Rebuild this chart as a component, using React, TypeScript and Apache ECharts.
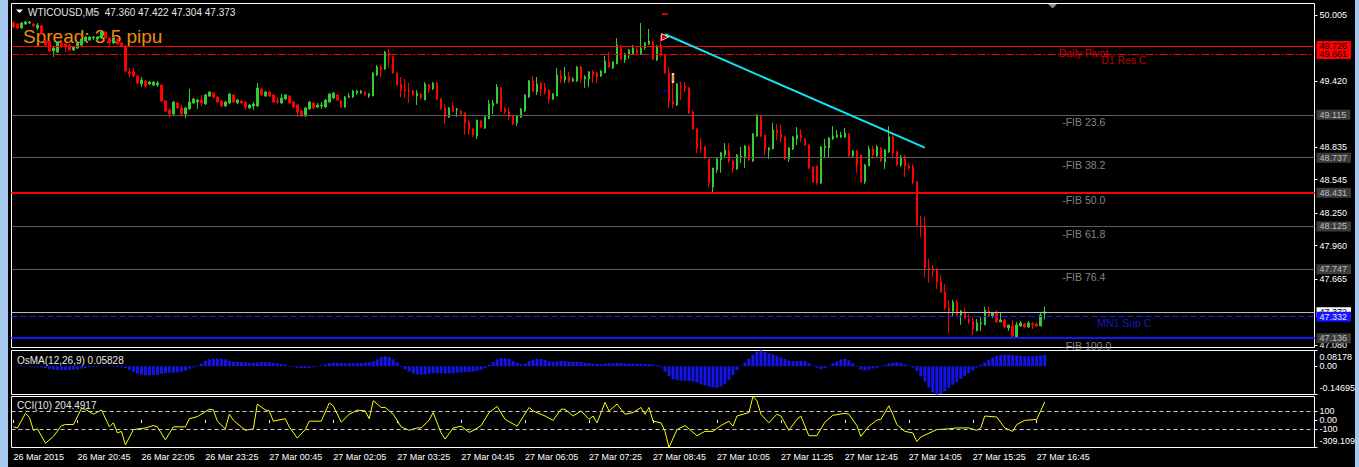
import React, { useEffect, useRef } from "react";
import * as echarts from "echarts";

const FONT = '"Liberation Sans", Arial, sans-serif';

// ---- time axis (M5 bars) ----
const startDay = 26;
const startMinute = 19 * 60 + 25;
const slotCount = 326;
const lastBar = 258;
const firstLabel = "26 Mar 2015";

// ---- candles: [open, close, low, high] ----
const candles: number[][] = [
  [49.934,49.899,49.890,49.952],[49.925,49.890,49.881,49.934],[49.890,49.934,49.881,49.943],[49.925,49.943,49.916,49.952],
  [49.934,49.943,49.925,49.952],[49.925,49.908,49.899,49.934],[49.890,49.916,49.872,49.934],[49.908,49.845,49.837,49.916],
  [49.783,49.739,49.730,49.828],[49.775,49.686,49.677,49.783],[49.686,49.712,49.633,49.721],[49.677,49.766,49.668,49.775],
  [49.757,49.730,49.712,49.775],[49.748,49.721,49.677,49.766],[49.739,49.695,49.686,49.748],[49.695,49.721,49.686,49.730],
  [49.712,49.757,49.704,49.766],[49.739,49.792,49.730,49.801],[49.775,49.810,49.766,49.819],[49.783,49.810,49.775,49.819],
  [49.801,49.810,49.783,49.819],[49.792,49.810,49.783,49.819],[49.801,49.854,49.792,49.863],[49.854,49.801,49.792,49.863],
  [49.801,49.757,49.721,49.810],[49.757,49.801,49.748,49.810],[49.792,49.748,49.739,49.801],[49.757,49.730,49.721,49.766],
  [49.721,49.509,49.500,49.739],[49.500,49.482,49.455,49.535],[49.500,49.464,49.455,49.535],[49.464,49.402,49.393,49.473],
  [49.393,49.429,49.367,49.455],[49.420,49.376,49.358,49.429],[49.393,49.411,49.384,49.420],[49.384,49.411,49.376,49.420],
  [49.384,49.402,49.367,49.420],[49.384,49.243,49.234,49.393],[49.243,49.154,49.145,49.251],[49.163,49.127,49.092,49.181],
  [49.127,49.234,49.118,49.243],[49.225,49.181,49.172,49.234],[49.181,49.127,49.118,49.207],[49.127,49.181,49.092,49.190],
  [49.172,49.234,49.163,49.349],[49.225,49.260,49.216,49.269],[49.234,49.251,49.172,49.260],[49.251,49.225,49.198,49.296],
  [49.216,49.296,49.207,49.305],[49.287,49.322,49.278,49.331],[49.314,49.278,49.269,49.322],[49.278,49.234,49.225,49.287],
  [49.243,49.198,49.189,49.251],[49.198,49.234,49.189,49.243],[49.225,49.305,49.216,49.314],[49.296,49.234,49.225,49.305],
  [49.225,49.251,49.216,49.260],[49.243,49.225,49.216,49.251],[49.234,49.189,49.163,49.234],[49.181,49.207,49.172,49.216],
  [49.198,49.216,49.163,49.234],[49.198,49.358,49.189,49.402],[49.349,49.296,49.287,49.358],[49.287,49.322,49.278,49.331],
  [49.322,49.287,49.278,49.331],[49.296,49.234,49.225,49.305],[49.243,49.234,49.216,49.278],[49.225,49.269,49.216,49.305],
  [49.260,49.296,49.251,49.305],[49.287,49.225,49.216,49.296],[49.234,49.189,49.181,49.243],[49.207,49.145,49.101,49.216],
  [49.154,49.110,49.101,49.163],[49.110,49.181,49.101,49.190],[49.172,49.234,49.163,49.243],[49.225,49.181,49.172,49.234],
  [49.189,49.207,49.181,49.225],[49.198,49.207,49.172,49.234],[49.189,49.251,49.181,49.260],[49.234,49.305,49.225,49.314],
  [49.269,49.314,49.260,49.322],[49.296,49.251,49.243,49.305],[49.243,49.189,49.181,49.251],[49.189,49.278,49.181,49.287],
  [49.278,49.287,49.269,49.314],[49.278,49.331,49.269,49.340],[49.314,49.331,49.296,49.340],[49.314,49.331,49.305,49.340],
  [49.322,49.296,49.287,49.331],[49.287,49.305,49.269,49.314],[49.287,49.491,49.287,49.500],[49.473,49.544,49.464,49.562],
  [49.544,49.517,49.455,49.562],[49.526,49.677,49.517,49.686],[49.668,49.650,49.535,49.704],[49.633,49.491,49.482,49.642],
  [49.491,49.384,49.376,49.500],[49.393,49.340,49.278,49.455],[49.349,49.331,49.269,49.438],[49.340,49.331,49.225,49.402],
  [49.331,49.296,49.287,49.340],[49.287,49.314,49.207,49.340],[49.305,49.269,49.260,49.314],[49.251,49.393,49.251,49.411],
  [49.384,49.349,49.314,49.393],[49.349,49.402,49.340,49.411],[49.402,49.260,49.251,49.411],[49.260,49.172,49.163,49.269],
  [49.181,49.101,49.039,49.216],[49.101,49.181,49.092,49.190],[49.198,49.154,49.145,49.234],[49.163,49.172,49.101,49.181],
  [49.154,49.127,49.118,49.163],[49.136,49.048,48.941,49.145],[49.057,48.985,48.941,49.074],[48.994,48.941,48.923,49.003],
  [48.932,49.074,48.906,49.074],[49.065,49.012,49.003,49.074],[49.003,49.101,48.994,49.110],[49.083,49.216,49.083,49.251],
  [49.198,49.225,49.127,49.251],[49.225,49.367,49.216,49.393],[49.358,49.154,49.145,49.367],[49.172,49.145,49.127,49.190],
  [49.145,49.101,49.074,49.181],[49.110,49.039,49.030,49.118],[49.048,49.110,49.021,49.118],[49.101,49.172,49.092,49.181],
  [49.154,49.296,49.145,49.305],[49.278,49.420,49.269,49.429],[49.420,49.331,49.322,49.464],[49.322,49.393,49.296,49.455],
  [49.402,49.349,49.287,49.411],[49.358,49.322,49.296,49.402],[49.340,49.260,49.225,49.349],[49.260,49.305,49.251,49.314],
  [49.287,49.473,49.287,49.535],[49.464,49.438,49.402,49.517],[49.429,49.464,49.402,49.544],[49.464,49.420,49.402,49.500],
  [49.420,49.438,49.411,49.455],[49.420,49.544,49.411,49.553],[49.544,49.438,49.402,49.553],[49.438,49.455,49.358,49.473],
  [49.438,49.500,49.367,49.509],[49.500,49.473,49.402,49.517],[49.491,49.455,49.402,49.500],[49.464,49.509,49.455,49.517],
  [49.491,49.597,49.491,49.642],[49.588,49.544,49.535,49.677],[49.535,49.588,49.526,49.597],[49.571,49.739,49.571,49.801],
  [49.730,49.615,49.606,49.739],[49.606,49.659,49.580,49.668],[49.650,49.695,49.615,49.704],[49.659,49.712,49.650,49.739],
  [49.695,49.668,49.650,49.721],[49.659,49.712,49.650,49.934],[49.712,49.757,49.695,49.766],[49.748,49.775,49.739,49.881],
  [49.766,49.615,49.606,49.775],[49.606,49.730,49.597,49.739],[49.739,49.650,49.633,49.828],[49.650,49.491,49.482,49.659],
  [49.491,49.243,49.181,49.544],[49.243,49.216,49.181,49.473],[49.207,49.393,49.198,49.402],[49.376,49.367,49.251,49.411],
  [49.376,49.358,49.322,49.411],[49.358,49.136,49.127,49.367],[49.145,48.994,48.985,49.163],[48.994,48.826,48.782,49.003],
  [48.826,48.817,48.782,48.915],[48.835,48.737,48.729,48.844],[48.729,48.516,48.480,48.729],[48.480,48.649,48.427,48.649],
  [48.631,48.729,48.605,48.746],[48.720,48.782,48.605,48.791],[48.764,48.808,48.747,48.870],[48.799,48.711,48.693,48.870],
  [48.711,48.649,48.605,48.729],[48.640,48.764,48.631,48.773],[48.746,48.755,48.693,48.835],[48.737,48.844,48.649,48.853],
  [48.835,48.720,48.711,48.853],[48.711,48.950,48.702,48.959],[48.932,49.118,48.923,49.127],[49.110,48.932,48.923,49.118],
  [48.941,48.817,48.764,48.941],[48.808,48.826,48.729,48.835],[48.817,48.985,48.817,49.048],[48.985,48.959,48.897,49.039],
  [48.950,48.915,48.879,49.030],[48.923,48.729,48.720,48.932],[48.729,48.826,48.702,48.835],[48.817,48.923,48.808,48.932],
  [48.906,48.941,48.852,49.012],[48.941,48.915,48.879,48.994],[48.906,48.852,48.844,48.915],[48.852,48.649,48.640,48.861],
  [48.658,48.525,48.516,48.667],[48.667,48.516,48.498,48.667],[48.516,48.835,48.507,48.844],[48.826,48.844,48.737,48.906],
  [48.826,48.915,48.737,48.923],[48.906,48.932,48.897,49.021],[48.923,48.941,48.915,48.985],[48.923,48.941,48.915,48.968],
  [48.923,48.959,48.915,49.003],[48.950,48.755,48.746,48.959],[48.755,48.799,48.746,48.808],[48.799,48.675,48.605,48.808],
  [48.764,48.525,48.516,48.773],[48.525,48.675,48.507,48.684],[48.667,48.817,48.667,48.844],[48.817,48.764,48.729,48.844],
  [48.755,48.835,48.746,48.853],[48.826,48.711,48.702,48.835],[48.702,48.808,48.640,48.817],[48.791,48.923,48.782,49.021],
  [48.923,48.782,48.746,48.941],[48.791,48.675,48.667,48.799],[48.675,48.746,48.658,48.764],[48.746,48.667,48.569,48.764],
  [48.667,48.649,48.631,48.693],[48.658,48.525,48.507,48.684],[48.525,48.143,48.134,48.534],[48.143,48.126,48.037,48.223],
  [48.126,47.762,47.674,48.214],[47.762,47.753,47.629,47.842],[47.762,47.736,47.682,47.789],[47.744,47.638,47.576,47.762],
  [47.647,47.549,47.540,47.700],[47.549,47.408,47.390,47.620],[47.408,47.381,47.186,47.479],[47.381,47.461,47.328,47.479],
  [47.461,47.345,47.337,47.479],[47.345,47.381,47.257,47.390],[47.372,47.319,47.310,47.408],[47.310,47.284,47.266,47.354],
  [47.292,47.221,47.168,47.328],[47.204,47.275,47.204,47.310],[47.266,47.275,47.204,47.328],[47.257,47.390,47.257,47.417],
  [47.381,47.337,47.328,47.417],[47.337,47.363,47.319,47.363],[47.372,47.284,47.275,47.390],[47.284,47.301,47.284,47.363],
  [47.301,47.239,47.230,47.310],[47.230,47.257,47.204,47.257],[47.248,47.159,47.133,47.301],[47.151,47.257,47.133,47.284],
  [47.248,47.275,47.239,47.292],[47.266,47.239,47.230,47.275],[47.239,47.275,47.230,47.292],[47.266,47.257,47.221,47.284],
  [47.266,47.248,47.239,47.275],[47.248,47.345,47.248,47.363],[47.360,47.373,47.304,47.422],
];

// ---- OsMA(12,26,9) histogram, one value per bar ----
const osma: number[] = [
  -0.002,-0.003,-0.003,-0.002,-0.002,-0.003,-0.004,-0.006,
  -0.010,-0.014,-0.017,-0.019,-0.020,-0.020,-0.019,-0.018,-0.016,
  -0.012,-0.009,-0.006,-0.004,-0.003,-0.002,-0.002,-0.003,-0.004,-0.005,-0.006,
  -0.010,-0.020,-0.030,-0.038,-0.044,-0.047,-0.047,-0.046,-0.045,-0.040,-0.036,-0.034,-0.034,-0.032,-0.028,-0.022,
  -0.014,-0.006,0.004,
  0.014,0.028,0.036,0.040,0.040,0.040,0.036,0.028,0.024,
  0.022,0.022,0.020,0.018,0.018,0.020,0.022,0.022,0.020,0.018,0.015,0.012,0.008,
  0.002,-0.004,-0.008,-0.010,-0.010,-0.008,-0.005,-0.002,
  0.004,0.010,0.016,0.018,0.018,0.016,0.016,0.016,0.016,0.016,0.018,0.020,0.020,
  0.026,0.036,0.048,0.052,0.048,0.036,0.020,
  -0.004,-0.016,-0.028,-0.038,-0.043,-0.044,-0.042,-0.038,-0.036,-0.036,-0.037,-0.038,-0.038,-0.036,-0.034,-0.032,-0.030,-0.030,-0.028,-0.024,-0.018,-0.010,
  0.008,0.022,0.036,0.043,0.042,0.038,0.028,0.018,0.010,
  0.014,0.026,0.034,0.038,0.038,0.034,0.026,0.022,0.026,0.028,0.026,0.024,0.022,0.024,0.022,0.018,0.016,0.014,0.012,0.010,
  0.014,0.016,0.016,0.018,0.016,0.014,0.014,0.014,0.012,0.012,0.012,0.012,0.008,0.006,
  -0.006,-0.028,-0.052,-0.068,-0.072,-0.074,-0.076,-0.078,-0.080,-0.086,-0.094,-0.100,-0.106,-0.110,-0.112,-0.104,-0.092,-0.070,-0.046,-0.020,
  0.004,0.020,0.040,0.060,0.076,0.08178,0.074,0.066,0.060,0.054,0.046,
  0.038,0.030,0.026,0.026,0.028,0.026,0.016,0.004,
  -0.008,-0.016,-0.010,
  0.004,0.016,0.026,0.036,0.038,0.030,0.016,
  -0.004,-0.016,-0.022,-0.018,-0.012,-0.008,-0.004,
  0.006,0.014,0.018,0.020,0.016,0.010,0.004,
  -0.006,-0.024,-0.050,-0.080,-0.110,-0.136,-0.14695,-0.144,-0.130,-0.112,-0.096,-0.082,-0.066,-0.050,-0.036,-0.022,-0.008,
  0.008,0.020,0.034,0.046,0.054,0.058,0.060,0.060,0.058,0.056,0.054,0.052,0.052,0.052,0.054,0.056,0.05828,
];

// ---- CCI(10): [bar index, value] ----
const cciPoints: number[][] = [
  [0,-76],[1,-88],[3,77],[4,28],[5,-115],[6,-99],[8,-261],[10,-184],[12,-61],[13,-50],[15,-50],[17,131],[18,123],[20,66],
  [22,115],[24,-76],[25,-30],[26,-145],[27,-127],[28,-280],[30,-107],[33,-88],[35,-61],[36,-76],[38,-223],[40,-76],[43,-76],
  [44,16],[46,39],[49,123],[50,115],[51,-12],[53,-99],[54,66],[55,0],[58,-115],[60,-99],[61,181],[63,115],[64,104],[65,-12],
  [68,16],[69,-76],[71,-203],[73,-107],[74,-12],[77,-12],[79,193],[80,161],[82,-23],[84,66],[86,112],[88,104],[89,16],[90,219],
  [92,143],[93,143],[95,66],[97,-76],[99,-115],[101,-88],[102,-88],[104,0],[105,85],[107,-145],[108,-214],[110,-88],[112,-69],
  [114,-138],[115,-119],[117,-61],[119,85],[121,154],[123,8],[126,-69],[129,143],[130,104],[133,46],[135,-3],[137,123],[138,123],
  [140,46],[142,104],[144,8],[145,46],[146,-30],[148,200],[149,104],[151,181],[153,66],[155,85],[157,143],[158,66],[159,143],
  [160,-12],[162,-30],[163,-127],[164,-309.1],[166,-107],[168,-61],[171,-176],[173,-127],[175,-127],[177,-61],[179,-12],[180,-69],
  [181,46],[184,85],[185,266.5],[186,219],[187,66],[189,-30],[191,66],[192,46],[194,-115],[196,8],[197,46],[199,-176],[201,-176],
  [203,-23],[205,54],[208,77],[209,66],[211,-61],[212,-184],[214,-69],[216,0],[217,8],[219,161],[220,66],[221,-50],[223,-127],
  [225,-145],[226,-242],[227,-191],[231,-107],[234,-99],[236,-88],[239,-88],[241,-115],[242,-88],[243,46],[246,35],[248,-88],
  [250,-127],[251,-50],[253,-3],[256,8],[257,104],[258,204.49],
];

// ---- price scale / levels ----
const priceMin = 47.057;
const priceMax = 50.107;
const priceTicks = [50.005, 49.42, 48.835, 48.545, 48.25, 47.96, 47.665, 47.08];
const fibLevels = [49.115, 48.737, 48.431, 48.125, 47.747, 47.136];
const fibNames = ["-FIB 23.6", "-FIB 38.2", "-FIB 50.0", "-FIB 61.8", "-FIB 76.4", "-FIB 100.0"];
const resistanceLine = 49.726;
const dailyPivot = 49.661;
const midRedLine = 48.431;
const bidPrice = 47.372;
const mn1Support = 47.332;
const blueSupport = 47.136;
const trendLine = [[163, 49.834], [228, 48.829]];
const osmaRange = [-0.14695, 0.08178];
const cciRange = [-309.109, 266.5007];
const cciLevels = [100, -100];
const osmaNow = 0.05828;
const cciNow = 204.4917;

const pad = (n: number) => (n < 10 ? "0" + n : "" + n);
const categories = Array.from({ length: slotCount }, (_, k) => {
  const t = startMinute + 5 * k;
  const day = startDay + Math.floor(t / 1440);
  const m = t % 1440;
  return `${day} Mar ${pad(Math.floor(m / 60))}:${pad(m % 60)}`;
});

const GREEN = "#32cd32";
const RED = "#ff0000";
const WHITE = "#ffffff";

function boxLabel(text: string, bg: string, fg: string) {
  return {
    show: true,
    position: "end",
    distance: 2,
    formatter: text,
    color: fg,
    backgroundColor: bg,
    padding: [1, 4, 0, 3],
    fontSize: 9,
    fontFamily: FONT,
  };
}

export default function App() {
  const ref = useRef<HTMLDivElement>(null);
  useEffect(() => {
    if (!ref.current) return;
    const chart = echarts.init(ref.current, null, { renderer: "svg" });
    const last = candles[candles.length - 1];
    const header = `WTICOUSD,M5  ${last[0].toFixed(3)} ${last[3].toFixed(3)} ${last[2].toFixed(3)} ${last[1].toFixed(3)}`;

    const markData: any[] = [];
    fibLevels.forEach((v, k) => {
      markData.push({
        yAxis: v,
        lineStyle: { color: "#5c5c5c", width: 1, type: "solid" },
        label: k === 5 ? { show: false } : boxLabel(v.toFixed(3), "#3c3c3c", "#bdbdbd"),
      });
    });
    markData.push({ yAxis: midRedLine, lineStyle: { color: RED, width: 2, type: "solid" }, label: { show: false } });
    markData.push({ yAxis: bidPrice, lineStyle: { color: "#b4bcc8", width: 1, type: "solid" }, label: boxLabel(bidPrice.toFixed(3), WHITE, "#000") });
    markData.push({ yAxis: mn1Support, lineStyle: { color: "#1a1aff", width: 1, type: [6, 3] }, label: boxLabel(mn1Support.toFixed(3), "#1414ff", "#e8e8ff") });
    markData.push({ yAxis: blueSupport, lineStyle: { color: "#1414ff", width: 2, type: "solid" }, label: boxLabel(blueSupport.toFixed(3), "#3c3c3c", "#bdbdbd") });
    markData.push({ yAxis: dailyPivot, lineStyle: { color: RED, width: 1, type: [8, 2, 2, 2] }, label: boxLabel(dailyPivot.toFixed(3), RED, "#000") });
    markData.push({ yAxis: resistanceLine, lineStyle: { color: RED, width: 1, type: "solid" }, label: boxLabel(resistanceLine.toFixed(3), RED, "#000") });

    const textItem = (name: string, i: number, v: number, dx: number, dy: number, color: string) => ({
      name,
      value: [i, v],
      label: { show: true, position: [dx, dy], align: "left", verticalAlign: "middle", formatter: name, color, fontSize: 10.5, fontFamily: FONT },
    });
    const texts = [
      textItem("Daily Pivot", 262, dailyPivot, -1.5, 0, RED),
      textItem("D1 Res C", 272, dailyPivot, 1, 6.5, "#e60000"),
      textItem("MN1 Sup C", 271, mn1Support, 1, 7, "#1e1ee6"),
      ...fibLevels.map((v, k) => textItem(fibNames[k], 262, v, 2, 7.5, "#a8a8a8")),
    ];

    const xBase = (gridIndex: number) => ({
      type: "category",
      gridIndex,
      data: categories,
      boundaryGap: true,
      show: false,
    });

    const labelSel = (index: number) => index % 16 === 0 && index <= lastBar;

    const option: any = {
      animation: false,
      backgroundColor: "#000",
      grid: [
        { left: 11.5, top: 3.5, width: 1303, height: 344, show: true, borderColor: WHITE, borderWidth: 1, backgroundColor: "transparent" },
        { left: 11.5, top: 350.5, width: 1303, height: 44, show: true, borderColor: WHITE, borderWidth: 1, backgroundColor: "transparent" },
        { left: 11.5, top: 396.5, width: 1303, height: 51, show: true, borderColor: WHITE, borderWidth: 1, backgroundColor: "transparent" },
      ],
      xAxis: [
        xBase(0),
        xBase(1),
        {
          type: "category",
          gridIndex: 2,
          data: categories,
          boundaryGap: true,
          position: "bottom",
          axisLine: { show: false },
          axisTick: { show: true, alignWithLabel: true, interval: labelSel, length: 3, lineStyle: { color: WHITE } },
          axisLabel: {
            interval: labelSel,
            formatter: (v: string, idx: number) => (idx === 0 ? firstLabel : v),
            color: WHITE,
            fontSize: 9,
            fontFamily: FONT,
            align: "left",
            margin: 5,
          },
          splitLine: { show: false },
        },
      ],
      yAxis: [
        {
          type: "value",
          gridIndex: 0,
          position: "right",
          min: priceMin,
          max: priceMax,
          axisLine: { show: false },
          splitLine: { show: false },
          axisTick: { show: true, customValues: priceTicks, length: 3, lineStyle: { color: WHITE } },
          axisLabel: { customValues: priceTicks, formatter: (v: number) => v.toFixed(3), color: WHITE, fontSize: 9, fontFamily: FONT, margin: 5 },
        },
        {
          type: "value",
          gridIndex: 1,
          position: "right",
          min: osmaRange[0],
          max: osmaRange[1],
          axisLine: { show: false },
          splitLine: { show: false },
          axisTick: { show: true, customValues: [osmaRange[1], 0, osmaRange[0]], length: 3, lineStyle: { color: WHITE } },
          axisLabel: {
            customValues: [osmaRange[1], 0, osmaRange[0]],
            formatter: (v: number) => (v === osmaRange[1] ? `{t|${v}}` : v === osmaRange[0] ? `{b|${v}}` : "0.00"),
            rich: {
              t: { padding: [12, 0, 0, 0], color: WHITE, fontSize: 9, fontFamily: FONT },
              b: { padding: [0, 0, 13, 0], color: WHITE, fontSize: 9, fontFamily: FONT },
            },
            color: WHITE,
            fontSize: 9,
            fontFamily: FONT,
            margin: 5,
          },
        },
        {
          type: "value",
          gridIndex: 2,
          position: "right",
          min: cciRange[0],
          max: cciRange[1],
          axisLine: { show: false },
          splitLine: { show: false },
          axisTick: { show: true, customValues: [cciRange[1], 100, 0, -100, cciRange[0]], length: 3, lineStyle: { color: WHITE } },
          axisLabel: {
            customValues: [cciRange[1], 100, 0, -100, cciRange[0]],
            formatter: (v: number) =>
              v === cciRange[1] ? `{t|${v}}` : v === cciRange[0] ? `{b|${v}}` : v === 0 ? "0.00" : String(v),
            rich: {
              t: { padding: [12, 0, 0, 0], color: WHITE, fontSize: 9, fontFamily: FONT },
              b: { padding: [0, 0, 13, 0], color: WHITE, fontSize: 9, fontFamily: FONT },
            },
            color: WHITE,
            fontSize: 9,
            fontFamily: FONT,
            margin: 5,
          },
        },
      ],
      series: [
        {
          type: "candlestick",
          xAxisIndex: 0,
          yAxisIndex: 0,
          data: candles,
          barWidth: 2,
          itemStyle: { color: GREEN, color0: RED, borderColor: GREEN, borderColor0: RED, borderWidth: 1 },
          markLine: { symbol: "none", silent: true, animation: false, data: markData },
          z: 3,
        },
        {
          type: "line",
          xAxisIndex: 0,
          yAxisIndex: 0,
          data: trendLine,
          symbol: "none",
          lineStyle: { color: "#10e4f4", width: 2 },
          z: 5,
        },
        {
          type: "scatter",
          xAxisIndex: 0,
          yAxisIndex: 0,
          symbolSize: 1,
          itemStyle: { color: "transparent" },
          data: texts,
          z: 4,
        },
        {
          type: "scatter",
          xAxisIndex: 0,
          yAxisIndex: 0,
          z: 6,
          data: [
            { value: [163, 50.014], symbol: "rect", symbolSize: [6, 2], itemStyle: { color: RED } },
            { value: [163, 49.331], symbol: "rect", symbolSize: [5, 1.5], itemStyle: { color: "#0000ff" } },
            { value: [163, 49.81], symbol: "triangle", symbolRotate: -90, symbolSize: 7, itemStyle: { color: RED, borderColor: WHITE, borderWidth: 1 } },
            { value: [165, 49.447], symbol: "rect", symbolSize: [2, 8], itemStyle: { color: "#ffa500", borderColor: WHITE, borderWidth: 0.5 } },
          ],
        },
        {
          type: "bar",
          xAxisIndex: 1,
          yAxisIndex: 1,
          data: osma,
          barWidth: 3,
          itemStyle: { color: "#1414e6" },
        },
        {
          type: "line",
          xAxisIndex: 2,
          yAxisIndex: 2,
          data: cciPoints,
          symbol: "none",
          lineStyle: { color: "#ffff00", width: 1 },
          markLine: {
            symbol: "none",
            silent: true,
            label: { show: false },
            lineStyle: { color: "#c8c8c8", width: 1, type: [4, 3] },
            data: cciLevels.map((v) => ({ yAxis: v })),
          },
        },
      ],
      graphic: [
        { type: "rect", shape: { x: 0, y: 0, width: 8, height: 467 }, style: { fill: "#a4c8ee" }, z: 100 },
        { type: "rect", shape: { x: 1355, y: 0, width: 4, height: 467 }, style: { fill: "#a4c8ee" }, z: 100 },
        { type: "polygon", shape: { points: [[16, 9.5], [23, 9.5], [19.5, 13]] }, style: { fill: WHITE }, z: 10 },
        { type: "polygon", shape: { points: [[1048, 4], [1057, 4], [1052.5, 8.5]] }, style: { fill: "#8a9098" }, z: 10 },
        { type: "text", x: 28, y: 12, style: { text: header, fill: "#e6e6e6", fontSize: 10, fontFamily: FONT, verticalAlign: "middle" }, z: 10 },
        { type: "text", x: 23, y: 36, style: { text: "Spread: 3.5 pipu", fill: "#f08c0c", fontSize: 19, fontFamily: FONT, verticalAlign: "middle" }, z: 0 },
        { type: "text", x: 17, y: 360, style: { text: `OsMA(12,26,9) ${osmaNow}`, fill: "#e6e6e6", fontSize: 10, fontFamily: FONT, verticalAlign: "middle" }, z: 10 },
        { type: "text", x: 17, y: 405, style: { text: `CCI(10) ${cciNow}`, fill: "#e6e6e6", fontSize: 10, fontFamily: FONT, verticalAlign: "middle" }, z: 10 },
      ],
    };
    chart.setOption(option);
    return () => chart.dispose();
  }, []);
  return (
    <div
      ref={ref}
      style={{ position: "fixed", left: 0, top: 0, width: 1359, height: 467, background: "#000" }}
    />
  );
}
